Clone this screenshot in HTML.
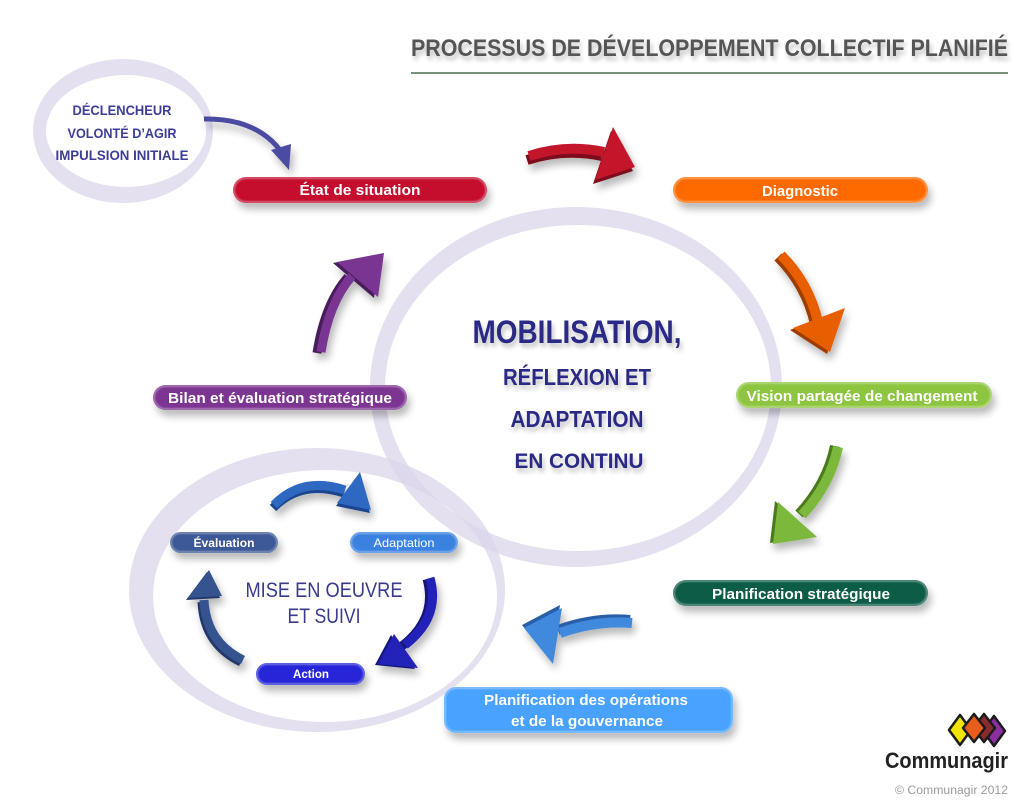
<!DOCTYPE html>
<html><head><meta charset="utf-8"><style>
html,body{margin:0;padding:0;background:#fff;}
svg{display:block;}
text{font-family:"Liberation Sans",sans-serif;}
</style></head><body>
<svg width="1024" height="804" viewBox="0 0 1024 804" xmlns="http://www.w3.org/2000/svg">
<defs>
<filter id="sh" x="-30%" y="-60%" width="160%" height="240%">
<feGaussianBlur in="SourceAlpha" stdDeviation="4"/><feOffset dx="3" dy="6"/>
<feComponentTransfer><feFuncA type="linear" slope="0.28"/></feComponentTransfer>
<feMerge><feMergeNode/><feMergeNode in="SourceGraphic"/></feMerge></filter>
<filter id="tsh" x="-10%" y="-30%" width="120%" height="170%">
<feGaussianBlur in="SourceAlpha" stdDeviation="2.5"/><feOffset dx="2" dy="4"/>
<feComponentTransfer><feFuncA type="linear" slope="0.25"/></feComponentTransfer>
<feMerge><feMergeNode/><feMergeNode in="SourceGraphic"/></feMerge></filter>
<filter id="soft"><feGaussianBlur stdDeviation="0.8"/></filter>
<mask id="mBig"><rect width="1024" height="804" fill="#000"/>
<ellipse cx="576" cy="387" rx="206" ry="180" fill="#fff"/>
<ellipse cx="578" cy="388" rx="193" ry="163" fill="#000"/></mask>
<mask id="mSmall"><rect width="1024" height="804" fill="#000"/>
<ellipse cx="317" cy="590" rx="188" ry="142" fill="#fff"/>
<ellipse cx="325" cy="596" rx="172" ry="126" fill="#000"/></mask>
<mask id="mTop"><rect width="1024" height="804" fill="#000"/>
<ellipse cx="123" cy="131" rx="90" ry="72" fill="#fff"/>
<ellipse cx="126" cy="131" rx="80" ry="56" fill="#000"/></mask>
</defs>

<!-- rings -->
<rect width="1024" height="804" fill="#dcd6ec" opacity="0.75" mask="url(#mBig)"/>
<rect width="1024" height="804" fill="#dcd6ec" opacity="0.75" mask="url(#mSmall)"/>
<rect width="1024" height="804" fill="#dcd6ec" opacity="0.75" mask="url(#mTop)"/>

<!-- title -->
<text x="411" y="56" font-size="24" font-weight="bold" fill="#555" textLength="597" lengthAdjust="spacingAndGlyphs" filter="url(#tsh)">PROCESSUS DE DÉVELOPPEMENT COLLECTIF PLANIFIÉ</text>
<line x1="411" y1="73" x2="1008" y2="73" stroke="#4d6b4f" stroke-width="1.5"/>

<!-- top-left texts -->
<g font-size="14" font-weight="bold" fill="#3d3d98" text-anchor="middle">
<text x="122" y="115" textLength="99" lengthAdjust="spacingAndGlyphs">DÉCLENCHEUR</text>
<text x="122" y="138" textLength="109" lengthAdjust="spacingAndGlyphs">VOLONTÉ D’AGIR</text>
<text x="122" y="160" textLength="133" lengthAdjust="spacingAndGlyphs">IMPULSION INITIALE</text>
</g>

<!-- arrow: trigger to état -->
<g filter="url(#sh)">
<path d="M204,119 Q255,118 280,150" fill="none" stroke="#4b4ba2" stroke-width="5"/>
<polygon points="271,150 291,144 289,170" fill="#4b4ba2"/>
</g>

<!-- red arrow -->
<g filter="url(#sh)">
<g transform="translate(-2,4)" fill="#7d0c1c" stroke="#7d0c1c">
<path d="M529,156 Q566,144 604,152" fill="none" stroke-width="10"/>
<polygon points="613,127 635,167 595,180" stroke="none"/></g>
<path d="M529,156 Q566,144 604,152" fill="none" stroke="#c4122c" stroke-width="10"/>
<polygon points="613,127 635,167 595,180" fill="#c4122c"/>
</g>

<!-- orange arrow -->
<g filter="url(#sh)">
<g transform="translate(-3,2)" fill="#9e3d00" stroke="#9e3d00">
<path d="M781,255 Q809,283 818,322" fill="none" stroke-width="10"/>
<polygon points="793,328 845,308 830,352" stroke="none"/></g>
<path d="M781,255 Q809,283 818,322" fill="none" stroke="#e75f05" stroke-width="10"/>
<polygon points="793,328 845,308 830,352" fill="#e75f05"/>
</g>

<!-- green arrow -->
<g filter="url(#sh)">
<g transform="translate(-3,-1)" fill="#4b7a1f" stroke="#4b7a1f">
<path d="M838,447 Q830,485 802,515" fill="none" stroke-width="10"/>
<polygon points="778,502 817,537 773,544" stroke="none"/></g>
<path d="M838,447 Q830,485 802,515" fill="none" stroke="#7cb83a" stroke-width="10"/>
<polygon points="778,502 817,537 773,544" fill="#7cb83a"/>
</g>

<!-- blue big arrow -->
<g filter="url(#sh)">
<g transform="translate(-2,-3)" fill="#2a5fa8" stroke="#2a5fa8">
<path d="M632,623 Q596,620 560,633" fill="none" stroke-width="10"/>
<polygon points="562,608 553,664 524,628" stroke="none"/></g>
<path d="M632,623 Q596,620 560,633" fill="none" stroke="#3f89dd" stroke-width="10"/>
<polygon points="562,608 553,664 524,628" fill="#3f89dd"/>
</g>

<!-- purple arrow -->
<g filter="url(#sh)">
<g transform="translate(-4,1)" fill="#4a1d5c" stroke="#4a1d5c">
<path d="M321,352 Q329,302 352,276" fill="none" stroke-width="9"/>
<polygon points="337,262 378,297 384,253" stroke="none"/></g>
<path d="M321,352 Q329,302 352,276" fill="none" stroke="#7a3592" stroke-width="9"/>
<polygon points="337,262 378,297 384,253" fill="#7a3592"/>
</g>

<!-- small loop arrows -->
<g filter="url(#sh)">
<g transform="translate(-1,3)" fill="#1d4590" stroke="#1d4590">
<path d="M274,505 Q302,476 345,490" fill="none" stroke-width="9"/>
<polygon points="360,472 337,503 371,510" stroke="none"/></g>
<path d="M274,505 Q302,476 345,490" fill="none" stroke="#2f67c0" stroke-width="9"/>
<polygon points="360,472 337,503 371,510" fill="#2f67c0"/>
</g>
<g filter="url(#sh)">
<g transform="translate(-3,1)" fill="#14147a" stroke="#14147a">
<path d="M430,578 Q441,617 405,645" fill="none" stroke-width="9"/>
<polygon points="394,634 418,668 378,664" stroke="none"/></g>
<path d="M430,578 Q441,617 405,645" fill="none" stroke="#2323b8" stroke-width="9"/>
<polygon points="394,634 418,668 378,664" fill="#2323b8"/>
</g>
<g filter="url(#sh)">
<g transform="translate(-2,2)" fill="#22386a" stroke="#22386a">
<path d="M243,660 Q206,642 204,600" fill="none" stroke-width="9"/>
<polygon points="188,598 222,596 209,570" stroke="none"/></g>
<path d="M243,660 Q206,642 204,600" fill="none" stroke="#36528f" stroke-width="9"/>
<polygon points="188,598 222,596 209,570" fill="#36528f"/>
</g>

<!-- pills -->
<g filter="url(#sh)">
<rect x="233" y="177" width="254" height="26" rx="13" fill="#c5102d"/>
<rect x="673" y="177" width="255" height="26" rx="13" fill="#ff6a00"/>
<rect x="736" y="382" width="256" height="26" rx="13" fill="#8dc540"/>
<rect x="673" y="580" width="255" height="26" rx="13" fill="#0d5b47"/>
<rect x="444" y="687" width="289" height="46" rx="12" fill="#49a2ff"/>
<rect x="153" y="385" width="254" height="25" rx="12.5" fill="#7d3492"/>
<rect x="170" y="532" width="108" height="21" rx="10.5" fill="#3c5996"/>
<rect x="350" y="532" width="108" height="21" rx="10.5" fill="#3b82e0"/>
<rect x="256" y="663" width="109" height="22" rx="11" fill="#2727d8"/>
</g>
<g fill="none" stroke="#fff" stroke-opacity="0.35" stroke-width="2" filter="url(#soft)">
<rect x="234" y="178" width="252" height="24" rx="12"/>
<rect x="674" y="178" width="253" height="24" rx="12"/>
<rect x="737" y="383" width="254" height="24" rx="12"/>
<rect x="674" y="581" width="253" height="24" rx="12"/>
<rect x="445" y="688" width="287" height="44" rx="11"/>
<rect x="154" y="386" width="252" height="23" rx="11.5"/>
<rect x="171" y="533" width="106" height="19" rx="9.5"/>
<rect x="351" y="533" width="106" height="19" rx="9.5"/>
<rect x="257" y="664" width="107" height="20" rx="10"/>
</g>

<g font-weight="bold" fill="#fff" text-anchor="middle" font-size="15">
<text x="360" y="195" textLength="121" lengthAdjust="spacingAndGlyphs">État de situation</text>
<text x="800" y="196" textLength="76" lengthAdjust="spacingAndGlyphs">Diagnostic</text>
<text x="862" y="401" textLength="231" lengthAdjust="spacingAndGlyphs">Vision partagée de changement</text>
<text x="801" y="599" textLength="178" lengthAdjust="spacingAndGlyphs">Planification stratégique</text>
<text x="586" y="705" textLength="204" lengthAdjust="spacingAndGlyphs">Planification des opérations</text>
<text x="587" y="726" textLength="152" lengthAdjust="spacingAndGlyphs">et de la gouvernance</text>
<text x="280" y="403" textLength="224" lengthAdjust="spacingAndGlyphs">Bilan et évaluation stratégique</text>
</g>
<g fill="#fff" text-anchor="middle" font-size="12">
<text x="224" y="547" textLength="61" lengthAdjust="spacingAndGlyphs" font-weight="bold">Évaluation</text>
<text x="404" y="547" textLength="61" lengthAdjust="spacingAndGlyphs">Adaptation</text>
<text x="311" y="678" textLength="36" lengthAdjust="spacingAndGlyphs" font-weight="bold">Action</text>
</g>

<!-- center texts -->
<g fill="#2c2a86" font-weight="bold" text-anchor="middle" filter="url(#tsh)">
<text x="577" y="343" font-size="32" textLength="209" lengthAdjust="spacingAndGlyphs">MOBILISATION,</text>
<text x="577" y="385" font-size="23" textLength="148" lengthAdjust="spacingAndGlyphs">RÉFLEXION ET</text>
<text x="577" y="427" font-size="23" textLength="133" lengthAdjust="spacingAndGlyphs">ADAPTATION</text>
<text x="579" y="468" font-size="21" textLength="129" lengthAdjust="spacingAndGlyphs">EN CONTINU</text>
</g>
<g fill="#3a3a8c" text-anchor="middle" font-size="21">
<text x="324" y="597" textLength="157" lengthAdjust="spacingAndGlyphs">MISE EN OEUVRE</text>
<text x="324" y="623" textLength="73" lengthAdjust="spacingAndGlyphs">ET SUIVI</text>
</g>

<!-- logo -->
<g stroke="#1b1b1b" stroke-width="2.5" stroke-linejoin="round">
<polygon points="960,715 971,730 960,745 949,730" fill="#f3e500"/>
<polygon points="994,716 1005,731 994,746 983,731" fill="#8b2fa3"/>
<polygon points="984,714 995,728 984,742 973,728" fill="#8a2a2c"/>
<polygon points="974,714 985,728 974,742 963,728" fill="#e85c1c"/>
</g>
<text x="885" y="768" font-size="22" font-weight="bold" fill="#222" textLength="123" lengthAdjust="spacingAndGlyphs">Communagir</text>
<text x="895" y="794" font-size="11.5" fill="#9a9a9a" textLength="113" lengthAdjust="spacingAndGlyphs">©  Communagir 2012</text>
</svg>
</body></html>
